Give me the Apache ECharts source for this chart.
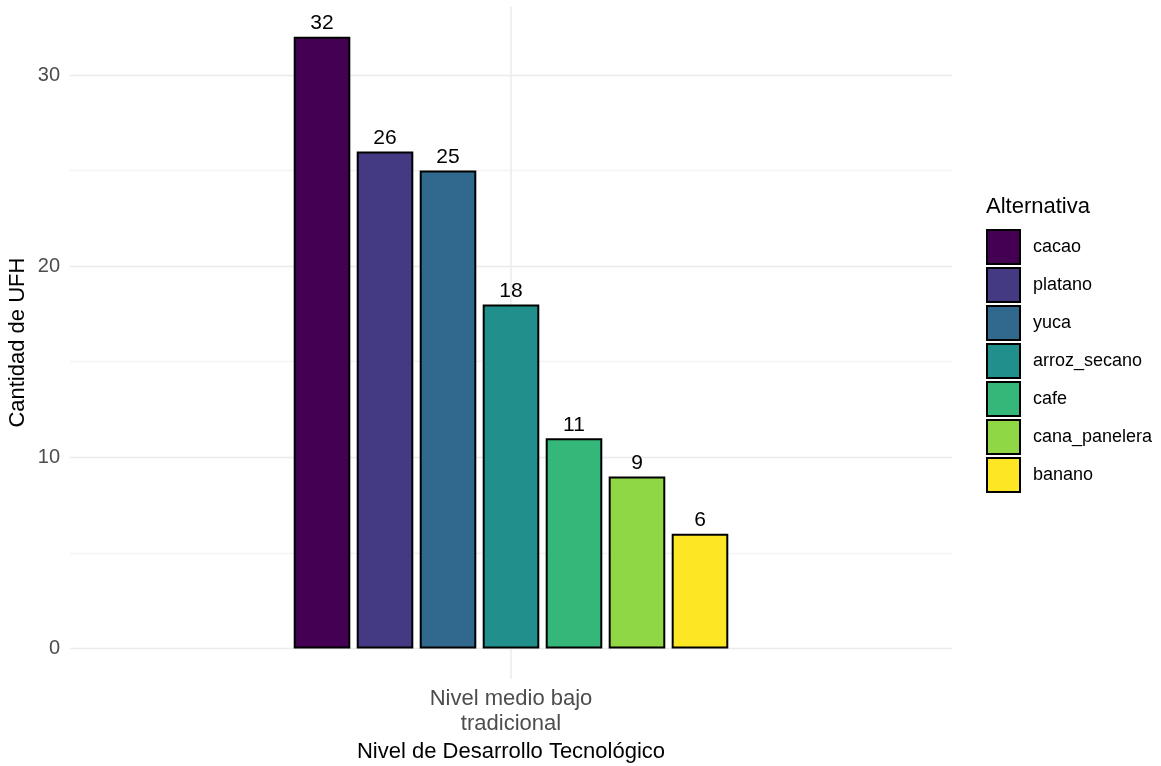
<!DOCTYPE html>
<html>
<head>
<meta charset="utf-8">
<script src="https://cdn.jsdelivr.net/npm/echarts@6/dist/echarts.min.js"></script>
<style>
html,body{margin:0;padding:0;background:#fff;}
#chart{width:1161px;height:766px;}
</style>
</head>
<body>
<div id="chart"></div>
<script>
const categories = ['Nivel medio bajo\ntradicional'];
const alternativas = ['cacao', 'platano', 'yuca', 'arroz_secano', 'cafe', 'cana_panelera', 'banano'];
const valores = [32, 26, 25, 18, 11, 9, 6];
const colores = ['#440154', '#443A83', '#31688E', '#21908C', '#35B779', '#8FD744', '#FDE725'];
const yTickLabels = [0, 10, 20, 30];
const panelRange = [-1.6, 33.6];   // data range of the panel (with expansion)
const gridRange = [0, 33.9];       // range of the tick / gridline axis

const FONT = 'Liberation Sans, Arial, sans-serif';
const chart = echarts.init(document.getElementById('chart'), null, {renderer: 'canvas'});

// layout (pixels)
const H = 766;
const y0 = 648.5;            // pixel of value 0
const pxPerUnit = 19.117;
const panelLeft = 70, panelRight = 952;
const yPix = v => y0 - v * pxPerUnit;

const series = alternativas.map((name, i) => ({
  name: name,
  type: 'bar',
  xAxisIndex: 0,
  yAxisIndex: 0,
  data: [valores[i]],
  barWidth: 56.6,
  barGap: '11.3%',
  z: 3,
  itemStyle: {color: colores[i], borderColor: '#000', borderWidth: 2},
  label: {show: true, position: 'top', distance: 3, color: '#000', fontSize: 21, fontFamily: FONT}
}));

series.push({
  name: 'grid-v',
  type: 'line',
  xAxisIndex: 0,
  yAxisIndex: 0,
  data: [],
  z: 1,
  silent: true,
  markLine: {
    silent: true,
    z: 1,
    symbol: ['none', 'none'],
    label: {show: false},
    lineStyle: {color: '#EBEBEB', width: 1.5, type: 'solid'},
    data: [[{coord: [0, panelRange[0]]}, {coord: [0, panelRange[1]]}]]
  }
});

const majorC = '#EBEBEB', minorC = '#F3F3F3';
chart.setOption({
  backgroundColor: '#fff',
  animation: false,
  textStyle: {fontFamily: FONT},
  title: {
    text: 'Alternativa', left: 986, top: 196, padding: 0,
    textStyle: {fontFamily: FONT, fontSize: 22, fontWeight: 'normal', color: '#000'}
  },
  legend: {
    data: alternativas,
    orient: 'vertical',
    left: 986, top: 229, padding: 0,
    itemWidth: 33, itemHeight: 34, itemGap: 2,
    icon: 'rect',
    textStyle: {fontFamily: FONT, fontSize: 18, color: '#000', padding: [0, 0, 0, 8]}
  },
  grid: [
    {left: panelLeft, right: 1161 - panelRight, top: yPix(panelRange[1]), bottom: H - yPix(panelRange[0]),
     outerBoundsMode: 'none', containLabel: false},
    {left: panelLeft, right: 1161 - panelRight, top: yPix(gridRange[1]), bottom: H - yPix(gridRange[0]),
     outerBoundsMode: 'none', containLabel: false}
  ],
  xAxis: [
    {
      type: 'category',
      gridIndex: 0,
      data: categories,
      axisLine: {show: false},
      axisTick: {show: false},
      splitLine: {show: false},
      axisLabel: {margin: 7, color: '#4D4D4D', fontSize: 22, fontFamily: FONT, lineHeight: 25},
      name: 'Nivel de Desarrollo Tecnológico',
      nameLocation: 'middle',
      nameGap: 59,
      nameTextStyle: {fontFamily: FONT, fontSize: 22, color: '#000'}
    },
    {
      type: 'category',
      gridIndex: 1,
      data: categories,
      axisLine: {show: false},
      axisTick: {show: false},
      axisLabel: {show: false},
      splitLine: {show: false}
    }
  ],
  yAxis: [
    {
      type: 'value',
      gridIndex: 0,
      min: panelRange[0], max: panelRange[1],
      axisLine: {show: false},
      axisTick: {show: false},
      axisLabel: {show: false},
      splitLine: {show: false},
      name: 'Cantidad de UFH',
      nameLocation: 'middle',
      nameGap: 41,
      nameTextStyle: {fontFamily: FONT, fontSize: 22, color: '#000'}
    },
    {
      type: 'value',
      gridIndex: 1,
      min: gridRange[0], max: gridRange[1], interval: 5,
      axisLine: {show: false},
      axisTick: {show: false},
      axisLabel: {
        margin: 10, color: '#4D4D4D', fontSize: 20, fontFamily: FONT,
        formatter: v => (yTickLabels.indexOf(v) >= 0 ? String(v) : '')
      },
      splitLine: {
        show: true,
        lineStyle: {
          width: 1.4,
          color: [majorC, minorC, majorC, minorC, majorC, minorC, majorC, 'rgba(0,0,0,0)']
        }
      }
    }
  ],
  series: series
});
</script>
</body>
</html>
